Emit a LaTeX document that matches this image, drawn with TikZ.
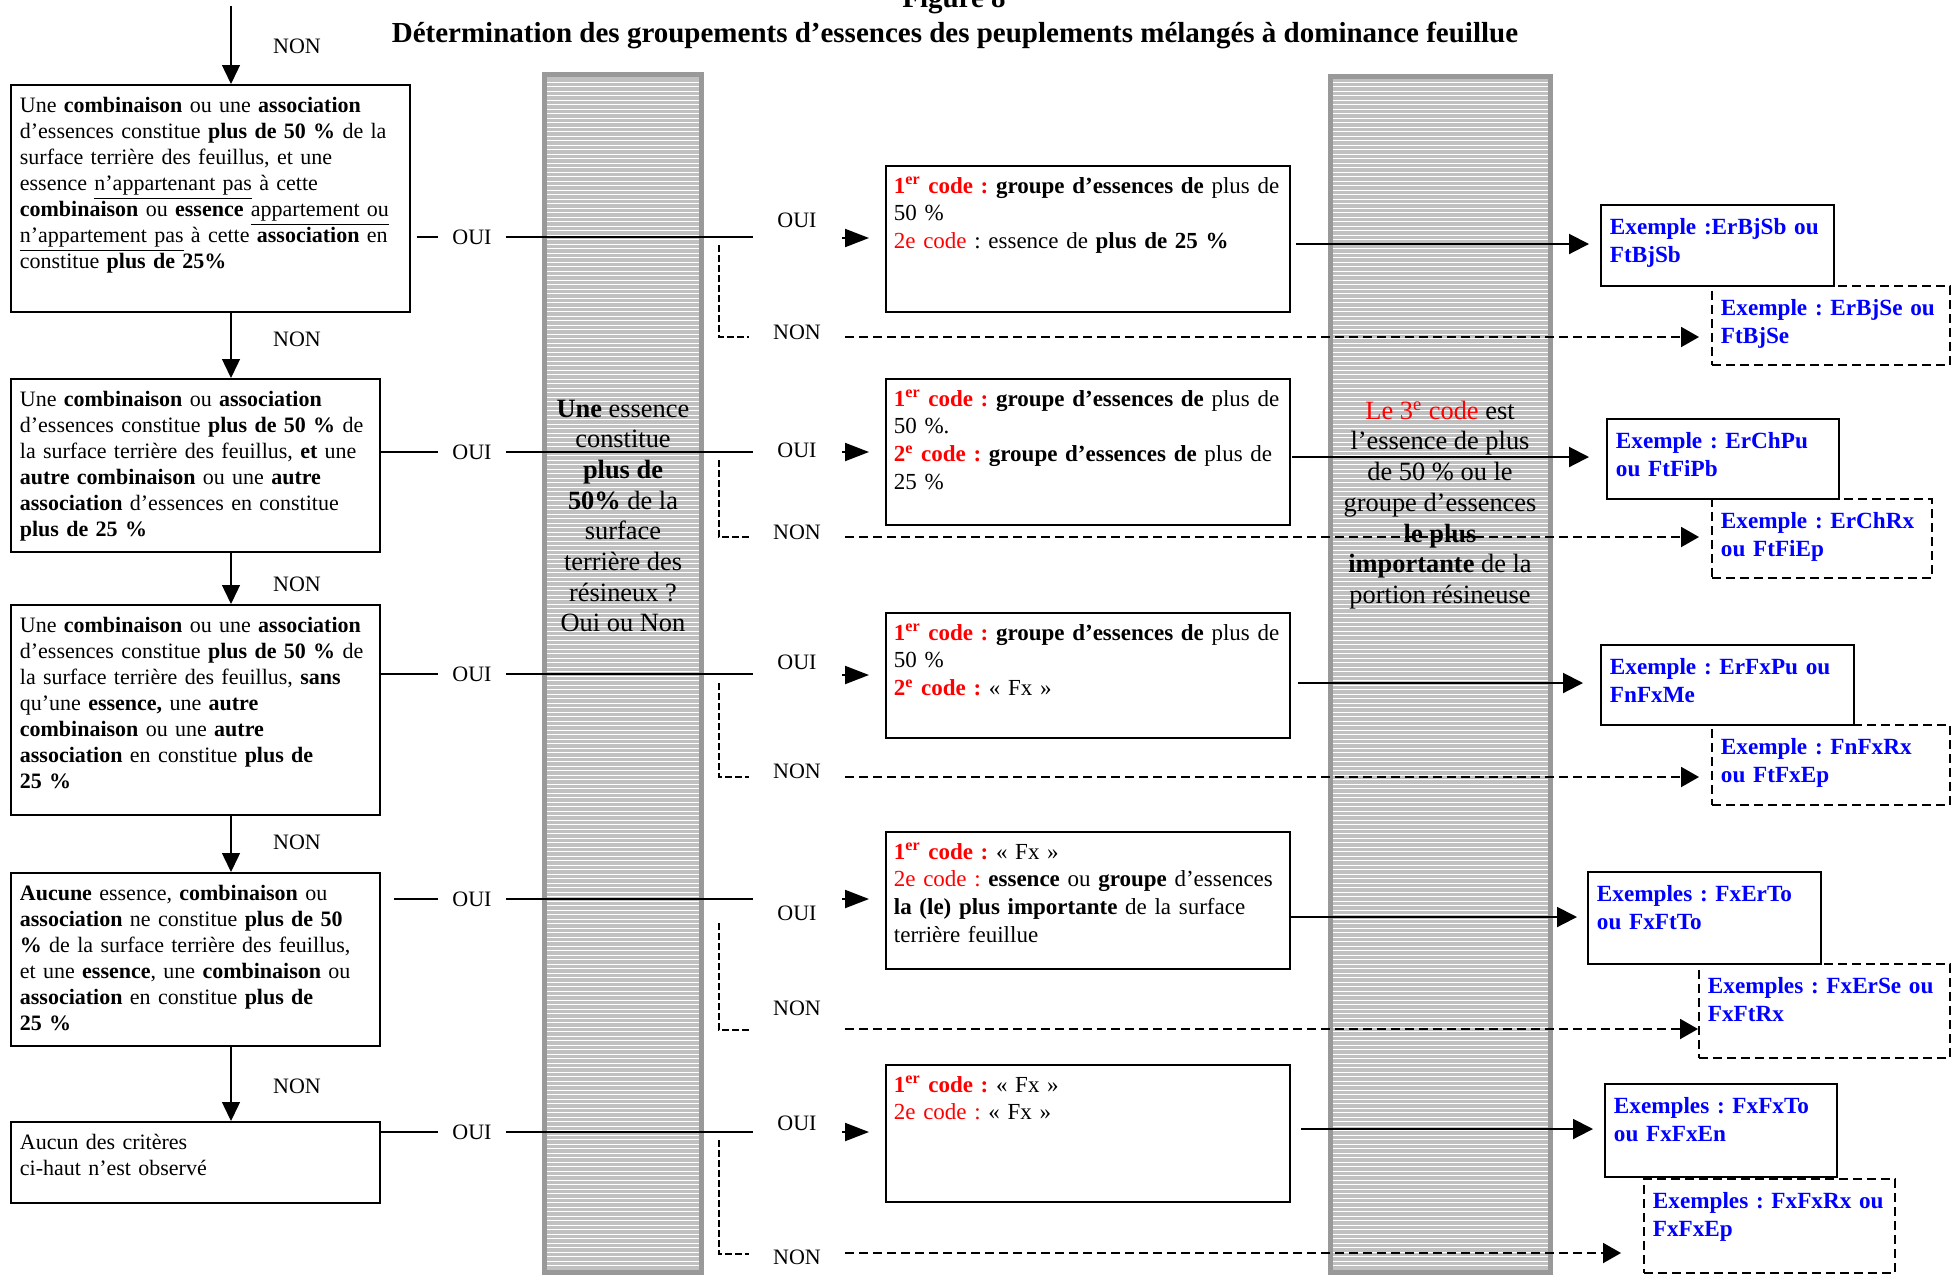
\documentclass[tikz,border=0pt]{standalone}
\usepackage{fontspec}
\setmainfont{Liberation Serif}
\usetikzlibrary{arrows.meta}
\frenchspacing

\definecolor{colborder}{HTML}{999999}
\definecolor{colfill}{HTML}{C0C0C0}

\newcommand{\premier}{\textcolor{red}{\bfseries 1\textsuperscript{er} code :}}
\newcommand{\second}{\textcolor{red}{\bfseries 2\textsuperscript{e} code :}}

\begin{document}
\begin{tikzpicture}[x=0.5pt, y=-0.5pt]

\tikzset{
    critbox/.style={draw, line width=0.9pt, anchor=north west, align=left,
        inner xsep=4.5pt, inner ysep=0pt, text height=14pt,
        font=\fontsize{11}{13}\selectfont},
    codebox/.style={draw, line width=0.9pt, anchor=north west, align=left,
        inner xsep=4pt, inner ysep=0pt, text height=13.6pt, text width=194pt,
        font=\fontsize{11.5}{13.9}\selectfont},
    exbox/.style={draw, line width=0.9pt, anchor=north west, align=left,
        inner xsep=4.5pt, inner ysep=0pt, text height=14.8pt, text=blue,
        font=\fontsize{11.6}{14}\selectfont\bfseries},
    exdash/.style={exbox, dash pattern=on 4.5pt off 2.5pt},
    coltext/.style={align=center, font=\fontsize{13.2}{15.35}\selectfont},
    lab/.style={inner xsep=7pt, inner ysep=1pt, font=\fontsize{11}{13}\selectfont},
    nonlab/.style={lab, inner xsep=12pt},
    flow/.style={line width=0.7pt, -{Triangle[width=9pt,length=9.5pt]}},
    ouiline/.style={line width=0.8pt},
    ouitip/.style={line width=1pt, shorten >=8pt, -{Triangle[width=9pt,length=12pt]}},
    exarrow/.style={line width=1pt, -{Triangle[width=10pt,length=10pt]}},
    nonvert/.style={line width=0.7pt, dash pattern=on 3.5pt off 1.5pt},
    nonline/.style={line width=1pt, dash pattern=on 4.5pt off 2.5pt,
        -{Triangle[width=10pt,length=9pt]}}
}

\useasboundingbox (0,0) rectangle (1957,1275);

%====================================================
% striped grey columns
%====================================================
\foreach \xa/\xb/\ya in {542/704/72, 1328/1553/74}{
    \fill[colfill] (\xa,\ya) rectangle (\xb,1275);
    \foreach \y in {82,86.5,...,1268}{
        \draw[white, line width=0.5pt] ({\xa+5},\y) -- ({\xb-5},\y);
    }
    \draw[colborder, line width=2.5pt] ({\xa+2.5},{\ya+2.5}) rectangle ({\xb-2.5},1272.5);
}

%====================================================
% titles
%====================================================
\node[anchor=base, font=\fontsize{14.5}{16}\selectfont\bfseries] (fig) at (954,7) {Figure 8};
\node[anchor=base, font=\fontsize{14.5}{16}\selectfont\bfseries] (title) at (955,42)
    {Détermination des groupements d’essences des peuplements mélangés à dominance feuillue};

%====================================================
% LEFT: criteria
%====================================================
\node[critbox, text width=190.5pt, text depth=99.5pt] (c1) at (10,84) {%
    Une \textbf{combinaison} ou une \textbf{association}\\
    d’essences constitue \textbf{plus de 50 \%} de la\\
    surface terrière des feuillus, et une\\
    essence \underline{n’appartenant pas} à cette\\
    \textbf{combinaison} ou \textbf{essence} \underline{appartement ou}\\
    \underline{n’appartement pas} à cette \textbf{association} en\\
    constitue \textbf{plus de 25\%}};
\node[critbox, text width=175.5pt, text depth=72.5pt] (c2) at (10,378) {%
    Une \textbf{combinaison} ou \textbf{association}\\
    d’essences constitue \textbf{plus de 50 \%} de\\
    la surface terrière des feuillus, \textbf{et} une\\
    \textbf{autre combinaison} ou une \textbf{autre}\\
    \textbf{association} d’essences en constitue\\
    \textbf{plus de 25 \%}};
\node[critbox, text width=175.5pt, text depth=91pt] (c3) at (10,604) {%
    Une \textbf{combinaison} ou une \textbf{association}\\
    d’essences constitue \textbf{plus de 50 \%} de\\
    la surface terrière des feuillus, \textbf{sans}\\
    qu’une \textbf{essence,} une \textbf{autre}\\
    \textbf{combinaison} ou une \textbf{autre}\\
    \textbf{association} en constitue \textbf{plus de}\\
    \textbf{25 \%}};
\node[critbox, text width=175.5pt, text depth=72.5pt] (c4) at (10,872) {%
    \textbf{Aucune} essence, \textbf{combinaison} ou\\
    \textbf{association} ne constitue \textbf{plus de 50}\\
    \textbf{\%} de la surface terrière des feuillus,\\
    et une \textbf{essence}, une \textbf{combinaison} ou\\
    \textbf{association} en constitue \textbf{plus de}\\
    \textbf{25 \%}};
\node[critbox, text width=175.5pt, text depth=26.5pt] (c5) at (10,1121) {%
    Aucun des critères\\
    ci-haut n’est observé};

% NON labels
\node[lab] (nl0) at (297,46) {NON};
\node[lab] (nl1) at (297,339) {NON};
\node[lab] (nl2) at (297,584) {NON};
\node[lab] (nl3) at (297,842) {NON};
\node[lab] (nl4) at (297,1086) {NON};

% OUI labels
\node[lab] (ol1) at (472,237) {OUI};
\node[lab] (ol2) at (472,452) {OUI};
\node[lab] (ol3) at (472,674) {OUI};
\node[lab] (ol4) at (472,899) {OUI};
\node[lab] (ol5) at (472,1132) {OUI};

%====================================================
% column texts
%====================================================
\node[coltext] (q1) at (623,516) {%
    \textbf{Une} essence\\ constitue\\ \textbf{plus de}\\ \textbf{50\%} de la\\
    surface\\ terrière des\\ résineux ?\\ Oui ou Non};
\node[coltext] (q2) at (1440,505) {%
    \textcolor{red}{Le 3\textsuperscript{e} code} est\\ l’essence de plus\\ de 50 \% ou le\\
    groupe d’essences\\ \textbf{le plus}\\ \textbf{importante} de la\\ portion résineuse};

%====================================================
% MIDDLE: codes
%====================================================
\node[lab] (or1) at (797,220) {OUI};
\node[lab] (or2) at (797,450) {OUI};
\node[lab] (or3) at (797,662) {OUI};
\node[lab] (or4) at (797,913) {OUI};
\node[lab] (or5) at (797,1123) {OUI};

\node[nonlab] (nn1) at (797,332) {NON};
\node[nonlab] (nn2) at (797,532) {NON};
\node[nonlab] (nn3) at (797,771) {NON};
\node[nonlab] (nn4) at (797,1008) {NON};
\node[nonlab] (nn5) at (797,1257) {NON};

\node[codebox, text depth=59.4pt] (m1) at (885,165) {%
    \premier\ \textbf{groupe d’essences de} plus de\\
    50 \%\\
    \textcolor{red}{2e code} : essence de \textbf{plus de 25 \%}};
\node[codebox, text depth=59.4pt] (m2) at (885,378) {%
    \premier\ \textbf{groupe d’essences de} plus de\\
    50 \%.\\
    \second\ \textbf{groupe d’essences de} plus de\\
    25 \%};
\node[codebox, text depth=48.9pt] (m3) at (885,612) {%
    \premier\ \textbf{groupe d’essences de} plus de\\
    50 \%\\
    \second\ «~Fx~»};
\node[codebox, text depth=54.9pt] (m4) at (885,831) {%
    \premier\ «~Fx~»\\
    \textcolor{red}{2e code :} \textbf{essence} ou \textbf{groupe} d’essences\\
    \textbf{la (le) plus importante} de la surface\\
    terrière feuillue};
\node[codebox, text depth=54.9pt] (m5) at (885,1064) {%
    \premier\ «~Fx~»\\
    \textcolor{red}{2e code :} «~Fx~»};

%====================================================
% RIGHT: examples
%====================================================
\node[exdash, text width=110pt, text depth=24.7pt] (n1) at (1711,285) {Exemple : ErBjSe ou\\ FtBjSe};
\node[exdash, text width=101pt, text depth=24.7pt] (n2) at (1711,498) {Exemple : ErChRx\\ ou FtFiEp};
\node[exdash, text width=110pt, text depth=25.2pt] (n3) at (1711,724) {Exemple : FnFxRx\\ ou FtFxEp};
\node[exdash, text width=116.5pt, text depth=32.2pt] (n4) at (1698,963) {Exemples : FxErSe ou\\ FxFtRx};
\node[exdash, text width=116.5pt, text depth=32.2pt] (n5) at (1643,1178) {Exemples : FxFxRx ou\\ FxFxEp};

\node[exbox, text width=107.5pt, text depth=25.7pt] (e1) at (1600,204) {Exemple :ErBjSb ou\\ FtBjSb};
\node[exbox, text width=107pt, text depth=25.2pt] (e2) at (1606,418) {Exemple : ErChPu\\ ou FtFiPb};
\node[exbox, text width=117.5pt, text depth=25.2pt] (e3) at (1600,644) {Exemple : ErFxPu ou\\ FnFxMe};
\node[exbox, text width=107.5pt, text depth=31.2pt] (e4) at (1587,871) {Exemples : FxErTo\\ ou FxFtTo};
\node[exbox, text width=107pt, text depth=31.7pt] (e5) at (1604,1083) {Exemples : FxFxTo\\ ou FxFxEn};

%====================================================
% connectors
%====================================================
% NON chain on the left
\coordinate (t0) at (231,6);
\draw[flow] (t0) -- (c1.north -| t0);
\draw[flow] (c1.south -| t0) -- (c2.north -| t0);
\draw[flow] (c2.south -| t0) -- (c3.north -| t0);
\draw[flow] (c3.south -| t0) -- (c4.north -| t0);
\draw[flow] (c4.south -| t0) -- (c5.north -| t0);

% OUI lines across the first column
\coordinate (j1) at (753,237);
\coordinate (j2) at (753,452);
\coordinate (j3) at (753,674);
\coordinate (j4) at (753,899);
\coordinate (j5) at (753,1132);
\draw[ouiline, shorten <=3pt] (c1.east |- ol1) -- (ol1.west);
\draw[ouiline] (c2.east |- ol2) -- (ol2.west);
\draw[ouiline] (c3.east |- ol3) -- (ol3.west);
\draw[ouiline, shorten <=6.5pt] (c4.east |- ol4) -- (ol4.west);
\draw[ouiline] (c5.east |- ol5) -- (ol5.west);
\foreach \i in {1,...,5}{
    \draw[ouiline] (ol\i.east) -- (j\i);
}

% arrows into the code boxes
\coordinate (p1) at (842,238);
\coordinate (p2) at (842,452);
\coordinate (p3) at (842,675);
\coordinate (p4) at (842,899);
\coordinate (p5) at (842,1132);
\foreach \i in {1,...,5}{
    \draw[ouitip] (p\i) -- (m\i.west |- p\i);
}

% NON branches (dashed)
\coordinate (v1) at (719,245);  \coordinate (k1) at (749,337);
\coordinate (v2) at (719,460);  \coordinate (k2) at (749,537);
\coordinate (v3) at (719,683);  \coordinate (k3) at (749,777);
\coordinate (v4) at (719,923);  \coordinate (k4) at (749,1030);
\coordinate (v5) at (719,1140); \coordinate (k5) at (749,1254);
\foreach \i in {1,...,5}{
    \draw[nonvert] (v\i) |- (k\i);
}
\coordinate (x1) at (845,337);
\coordinate (x2) at (845,537);
\coordinate (x3) at (845,777);
\coordinate (x4) at (845,1029);
\coordinate (x5) at (845,1253);
\draw[nonline, shorten >=6pt] (x1) -- (n1.west |- x1);
\draw[nonline, shorten >=6pt] (x2) -- (n2.west |- x2);
\draw[nonline, shorten >=6pt] (x3) -- (n3.west |- x3);
\draw[nonline] (x4) -- (n4.west |- x4);
\draw[nonline, shorten >=11pt] (x5) -- (n5.west |- x5);

% code boxes to examples, across the second column
\coordinate (s1) at (1296,244);
\coordinate (s2) at (1292,457);
\coordinate (s3) at (1298,683);
\coordinate (s4) at (1290,917);
\coordinate (s5) at (1301,1129);
\draw[exarrow, shorten >=5.5pt] (s1) -- (e1.west |- s1);
\draw[exarrow, shorten >=8.5pt] (s2) -- (e2.west |- s2);
\draw[exarrow, shorten >=8.5pt] (s3) -- (e3.west |- s3);
\draw[exarrow, shorten >=5pt] (s4) -- (e4.west |- s4);
\draw[exarrow, shorten >=5.5pt] (s5) -- (e5.west |- s5);

\end{tikzpicture}
\end{document}
